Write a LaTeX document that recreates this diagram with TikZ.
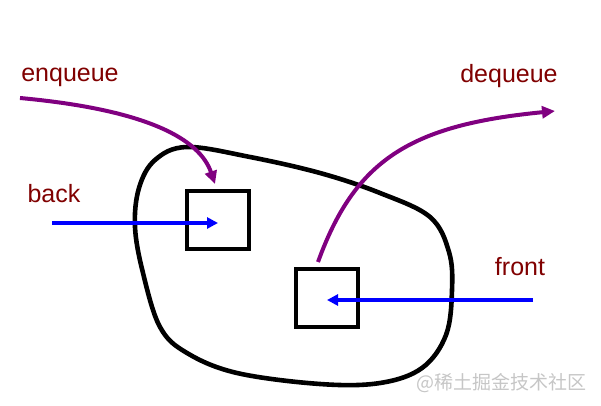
\documentclass[tikz,border=0pt]{standalone}
\usepackage{fontspec}
\setmainfont{Liberation Sans}
\newfontfamily\cjk{Noto Sans CJK SC}
\usetikzlibrary{arrows.meta}
\definecolor{labelred}{RGB}{128,0,0}
\definecolor{arrowpurple}{RGB}{128,0,128}
\tikzset{
  label/.style={text=labelred,font=\fontsize{25}{30}\selectfont,inner sep=0pt},
  cell/.style={draw,line width=3.6pt,minimum width=62pt,minimum height=58pt,inner sep=0pt},
  pointer/.style={blue,line width=3.4pt,-{Triangle[length=11pt,width=11pt]}},
  op/.style={arrowpurple,line width=4pt,-{Triangle[length=13pt,width=12pt]}}
}
\begin{document}
\begin{tikzpicture}
[x=1pt,y=-1pt]
\useasboundingbox (0,0) rectangle (601,406);
\draw[line width=4.6pt] plot[smooth cycle,tension=0.6] coordinates {(187,147) (250,157) (320,173) (380,193) (430,217) (449,252) (452,290) (446,335) (422,368) (380,383) (320,384) (237,373) (187,353) (160,327) (143,273) (135,227) (139,188) (155,160)};
\node[cell] (rear) at (218,220) {};
\node[cell] (head) at (327,298) {};
\node[label,anchor=base] (enq) at (70,82) {enqueue};
\node[label,anchor=base] (deq) at (509,83) {dequeue};
\node[label,anchor=base] (back) at (54,202) {back};
\node[label,anchor=base] (front) at (520,275) {front};
\coordinate (enqstart) at (20,98);
\coordinate (enqend) at (215,184);
\coordinate (deqstart) at (318,262);
\coordinate (deqend) at (555,111);
\coordinate (backstart) at (52,223);
\coordinate (frontstart) at (533,300);
\draw[op] (enqstart) .. controls (150,110) and (200,140) .. (enqend);
\draw[op] (deqstart) .. controls (355,160) and (410,125) .. (deqend);
\draw[pointer] (backstart) -- (backstart -| rear.center);
\draw[pointer] (frontstart) -- (frontstart -| head.center);
\node[text=gray!45,font=\cjk\fontsize{19}{22}\selectfont,anchor=east,inner sep=0pt] (mark) at (587,383) {@稀土掘金技术社区};

\end{tikzpicture}
\end{document}
